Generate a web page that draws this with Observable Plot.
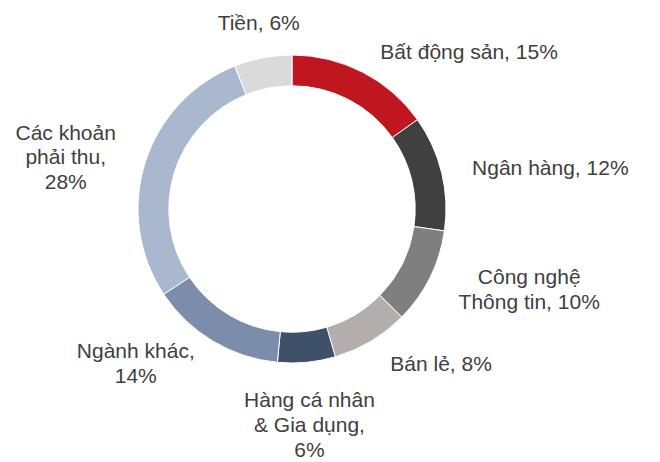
<!DOCTYPE html>
<html>
<head>
<meta charset="utf-8">
<script src="https://cdn.jsdelivr.net/npm/d3@7"></script>
<script src="https://cdn.jsdelivr.net/npm/@observablehq/plot@0.6"></script>
<style>
  html, body { margin: 0; padding: 0; background: #ffffff; }
  #chart svg { display: block; }
</style>
</head>
<body>
<div id="chart"></div>
<script>
// ---- data ----
const categories = ["Bất động sản", "Ngân hàng", "Công nghệ Thông tin", "Bán lẻ", "Hàng cá nhân & Gia dụng", "Ngành khác", "Các khoản phải thu", "Tiền"];
const shares = [15, 12, 10, 8, 6, 14, 28, 6];
const labels = ["Bất động sản, 15%", "Ngân hàng, 12%", "Công nghệ\nThông tin, 10%", "Bán lẻ, 8%", "Hàng cá nhân\n& Gia dụng,\n6%", "Ngành khác,\n14%", "Các khoản\nphải thu,\n28%", "Tiền, 6%"];
const palette = ["#c0161f", "#404040", "#7f7f7f", "#b3adad", "#3f5069", "#7b8dab", "#a9b8cf", "#dadada"];

// ---- layout ----
const W = 660, H = 462;
const fontSize = 21, lineHeight = 1.17;
const fontFamily = "'Liberation Sans', Arial, sans-serif";
const innerRatio = 0.8;
const labelRadius = 1.16;
const xRange = [138, 446], yRange = [363, 55];
const k = (xRange[1] - xRange[0]) / 2; // px per unit

const rows = categories.map((c, i) => ({category: c, share: shares[i], label: labels[i]}));
const arcs = d3.pie().sort(null).value(d => d.share).startAngle(0).endAngle(2 * Math.PI)(rows);

const ctx = document.createElement("canvas").getContext("2d");
ctx.font = `${fontSize}px ${fontFamily}`;

const labelData = arcs.map(a => {
  const m = (a.startAngle + a.endAngle) / 2;
  const s = Math.sin(m), c = Math.cos(m);
  const ax = labelRadius * s, ay = labelRadius * c;
  const lines = a.data.label.split("\n");
  const w = d3.max(lines, l => ctx.measureText(l).width);
  const h = lines.length * fontSize * lineHeight;
  let x = ax, y = ay;
  if (Math.abs(s) >= 0.3) x = ax + Math.sign(s) * (w / 2 + 6) / k;
  else y = ay + Math.sign(c) * (h / 2) / k;
  return {x, y, label: a.data.label};
});

const donut = (index, scales) => {
  const cx = scales.x(0), cy = scales.y(0);
  const ro = scales.x(1) - cx, ri = scales.x(innerRatio) - cx;
  const arcGen = d3.arc().innerRadius(ri).outerRadius(ro);
  const g = d3.create("svg:g").attr("transform", `translate(${cx},${cy})`);
  g.selectAll("path").data(arcs).join("path")
    .attr("d", arcGen)
    .attr("fill", d => scales.color(d.data.category))
    .attr("stroke", "#ffffff")
    .attr("stroke-width", 1);
  return g.node();
};

const chart = Plot.plot({
  width: W, height: H,
  margin: 0,
  x: {domain: [-1, 1], range: xRange, axis: null},
  y: {domain: [-1, 1], range: yRange, axis: null},
  color: {domain: categories, range: palette},
  style: {fontFamily, background: "#ffffff"},
  marks: [
    donut,
    Plot.text(labelData, {
      x: "x", y: "y", text: "label",
      textAnchor: "middle", lineAnchor: "middle",
      fontSize, lineHeight, fill: "#404040"
    })
  ]
});
document.getElementById("chart").append(chart);
</script>
</body>
</html>
